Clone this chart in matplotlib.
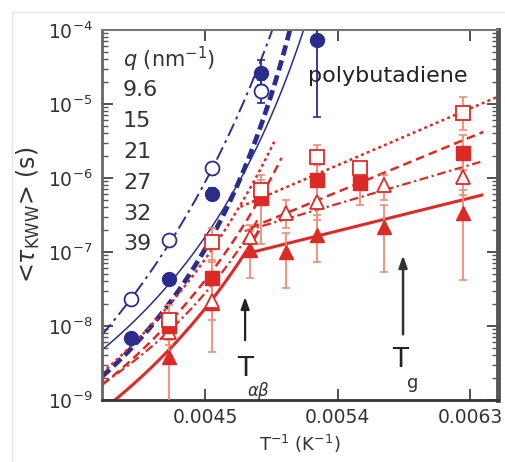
import numpy as np
import matplotlib.pyplot as plt
from matplotlib.ticker import (LogLocator, NullFormatter, FixedLocator,
                               FixedFormatter, LogFormatterSciNotation)
from matplotlib.lines import Line2D

# temperatures (K) and mean relaxation times (s) for each q
T_fc = np.array([250, 235, 220, 205, 190])
tau_fc = np.array([6.9e-9, 4.3e-8, 6.1e-7, 2.6e-5, 7.3e-5])
lo_fc = np.array([6.1e-9, 3.8e-8, 5.0e-7, 1.8e-5, 6.7e-6])
hi_fc = np.array([7.8e-9, 4.9e-8, 7.3e-7, 3.9e-5, 1.2e-4])

T_oc = np.array([250, 235, 220, 205])
tau_oc = np.array([2.3e-8, 1.45e-7, 1.36e-6, 1.5e-5])
lo_oc = np.array([2.0e-8, 1.3e-7, 1.1e-6, 1.03e-5])
hi_oc = np.array([2.6e-8, 1.6e-7, 1.6e-6, 2.1e-5])

T_os = np.array([235, 220, 205, 190, 180, 160])
tau_os = np.array([1.2e-8, 1.36e-7, 6.9e-7, 1.9e-6, 1.36e-6, 7.6e-6])
lo_os = np.array([7.6e-9, 7.3e-8, 4.3e-7, 1.1e-6, 8.0e-7, 4.5e-6])
hi_os = np.array([1.9e-8, 2.1e-7, 1.1e-6, 2.8e-6, 1.6e-6, 1.24e-5])

T_fs = np.array([235, 220, 205, 190, 180, 160])
tau_fs = np.array([1.0e-8, 4.5e-8, 5.4e-7, 9.4e-7, 8.6e-7, 2.2e-6])
lo_fs = np.array([6.5e-9, 2.2e-8, 1.3e-7, 5.0e-7, 4.3e-7, 1.3e-6])
hi_fs = np.array([1.5e-8, 7.8e-8, 9.4e-7, 1.5e-6, 1.36e-6, 3.8e-6])

T_ot = np.array([235, 220, 208, 198, 190, 175, 160])
tau_ot = np.array([8.3e-9, 2.2e-8, 1.6e-7, 3.4e-7, 4.7e-7, 8.0e-7, 1.03e-6])
lo_ot = np.array([5.5e-9, 1.2e-8, 1.06e-7, 2.1e-7, 2.7e-7, 5.0e-7, 5.9e-7])
hi_ot = np.array([1.3e-8, 3.6e-8, 2.3e-7, 5.0e-7, 8.0e-7, 1.1e-6, 1.75e-6])

T_ft = np.array([235, 220, 208, 198, 190, 175, 160])
tau_ft = np.array([3.8e-9, 2.05e-8, 1.06e-7, 1.0e-7, 1.7e-7, 2.2e-7, 3.4e-7])
lo_ft = np.array([7.3e-10, 4.5e-9, 4.5e-8, 3.3e-8, 7.3e-8, 5.4e-8, 4.2e-8])
hi_ft = np.array([8.8e-9, 3.6e-8, 1.9e-7, 1.8e-7, 3.2e-7, 4.3e-7, 6.9e-7])

q_labels = ["9.6", "15", "21", "27", "32", "39"]
x_ticks = [0.0045, 0.0054, 0.0063]
y_ticks = [1e-9, 1e-8, 1e-7, 1e-6, 1e-5, 1e-4]

# VFT fits: log10 tau = A + B/(T - T0), drawn between x0 and x1 (1/T)
vft_blue_dashdot = (-12.26, 510, 140, 0.0038, 0.0050)
vft_blue_dashed = (-11.30, 270, 160, 0.0038, 0.0051)
vft_blue_solid = (-11.02, 305, 150, 0.0038, 0.0052)
vft_red_dotted = (-11.72, 380, 140, 0.0038, 0.00498)
vft_red_dashed = (-11.64, 350, 140, 0.0038, 0.00502)
vft_red_dashdot = (-10.95, 245, 150, 0.0038, 0.00486)
vft_red_solid = (-11.90, 340, 140, 0.00388, 0.00486)
# Arrhenius fits: log10 tau = a + b*(1/T)
arr_red_dotted = (-10.429, 852, 0.00474, 0.0065)
arr_red_dashed = (-10.617, 820, 0.00481, 0.00639)
arr_red_dashdot = (-9.503, 584, 0.00477, 0.00637)
arr_red_solid = (-9.389, 495, 0.00481, 0.00638)

blue = '#2b2d8e'
red = '#dc2a26'
ered = '#f28c76'

plt.rcParams['font.family'] = 'DejaVu Sans'

fig = plt.figure(figsize=(5.05, 4.62), dpi=100)
ax = fig.add_axes([102/505, 62/462, 396/505, 370/462])


def vft_line(p, **kw):
    A, B, T0, x0, x1 = p
    x = np.linspace(x0, x1, 300)
    ax.plot(x, 10**(A + B/(1/x - T0)), **kw)


def arr_line(p, **kw):
    a, b, x0, x1 = p
    x = np.linspace(x0, x1, 50)
    ax.plot(x, 10**(a + b*x), **kw)


vft_line(vft_blue_dashdot, color=blue, lw=1.4, dashes=(7, 2.5, 1.5, 2.5))
vft_line(vft_blue_dashed, color=blue, lw=3.4, dashes=(2.2, 1.1))
vft_line(vft_blue_solid, color=blue, lw=1.1)
vft_line(vft_red_dotted, color=red, lw=1.8, dashes=(1.2, 1.3))
vft_line(vft_red_dashed, color=red, lw=1.8, dashes=(3.5, 2))
vft_line(vft_red_dashdot, color=red, lw=1.6, dashes=(4, 1.6, 1, 1.6))
vft_line(vft_red_solid, color=red, lw=2.2)
arr_line(arr_red_dotted, color=red, lw=1.8, dashes=(1.2, 1.3))
arr_line(arr_red_dashed, color=red, lw=1.8, dashes=(3.5, 2))
arr_line(arr_red_dashdot, color=red, lw=1.6, dashes=(4, 1.6, 1, 1.6))
arr_line(arr_red_solid, color=red, lw=2.2)


def series(T, tau, lo, hi, ecol, **kw):
    x = 1.0/T
    ax.errorbar(x, tau, yerr=[tau - lo, hi - tau], fmt='none', ecolor=ecol,
                elinewidth=1.3, capsize=3, capthick=1.2, zorder=3)
    ax.plot(x, tau, ls='none', zorder=4, **kw)


series(T_ft, tau_ft, lo_ft, hi_ft, ered, marker='^', ms=10, color=red, mec=red)
series(T_ot, tau_ot, lo_ot, hi_ot, ered, marker='^', ms=10, mfc='white', mec=red, mew=1.3)
series(T_fs, tau_fs, lo_fs, hi_fs, ered, marker='s', ms=10, color=red, mec=red)
series(T_os, tau_os, lo_os, hi_os, ered, marker='s', ms=10, mfc='white', mec=red, mew=1.3)
series(T_fc, tau_fc, lo_fc, hi_fc, blue, marker='o', ms=10, color=blue, mec=blue)
series(T_oc, tau_oc, lo_oc, hi_oc, blue, marker='o', ms=10, mfc='white', mec=blue, mew=1.3)

ax.set_yscale('log')
ax.set_xlim(0.0038, 0.00649)
ax.set_ylim(1e-9, 1e-4)
ax.xaxis.set_major_locator(FixedLocator(x_ticks))
ax.xaxis.set_major_formatter(FixedFormatter(['%.4f' % v for v in x_ticks]))
ax.yaxis.set_major_locator(FixedLocator(y_ticks))
ax.yaxis.set_major_formatter(LogFormatterSciNotation())
ax.yaxis.set_minor_locator(LogLocator(base=10, subs=np.arange(2, 10), numticks=10))
ax.yaxis.set_minor_formatter(NullFormatter())
ax.tick_params(which='both', direction='in', top=True, right=True, color='#555555')
ax.tick_params(which='major', length=8, width=1.2, labelsize=13.5, colors='#333333')
ax.tick_params(axis='x', which='major', pad=6)
ax.tick_params(axis='y', which='major', pad=7)
ax.tick_params(which='minor', length=4, width=1)

for side, w, c in [('left', 2, '#666666'), ('bottom', 2, '#333333'),
                   ('top', 1.5, '#777777'), ('right', 3.5, '#555555')]:
    ax.spines[side].set_linewidth(w)
    ax.spines[side].set_color(c)

ax.set_xlabel('T$^{-1}$ (K$^{-1}$)', fontsize=13, color='#333333', labelpad=4)
ax.set_ylabel(r'<$\tau_{\rm KWW}$> (s)', fontsize=17, color='#333333', labelpad=4)

ax.text(0.053, 0.92, r'$q$ (nm$^{-1}$)', transform=ax.transAxes, fontsize=15,
        va='center', color='#333333')
for i, lab in enumerate(q_labels):
    ax.text(0.053, 0.838 - i*0.0835, lab, transform=ax.transAxes, fontsize=16,
            va='center', color='#333333')
ax.text(0.52, 0.876, 'polybutadiene', transform=ax.transAxes, fontsize=16,
        va='center', color='#222222')

# transition markers
ax.annotate('', xy=(0.004772, 10**-7.57), xytext=(0.004772, 10**-8.23),
            arrowprops=dict(arrowstyle='-|>,head_length=0.7,head_width=0.25',
                            color='#222222', lw=1.6))
ax.annotate('', xy=(0.005845, 10**-7.01), xytext=(0.005845, 10**-8.15),
            arrowprops=dict(arrowstyle='-|>,head_length=0.7,head_width=0.25',
                            color='#333333', lw=1.8))
ax.text(0.004772, 10**-8.58, 'T', fontsize=19, ha='center', va='center', color='#222222')
ax.text(0.00486, 10**-8.88, r'$\alpha\beta$', fontsize=12, ha='center', va='center', color='#333333')
ax.text(0.005825, 10**-8.46, 'T', fontsize=19, ha='center', va='center', color='#222222')
ax.text(0.00591, 10**-8.77, 'g', fontsize=13, ha='center', va='center', color='#333333')

# faint page frame
fig.add_artist(Line2D([12/505, 1], [1 - 12/462, 1 - 12/462], color='#e6e6e6', lw=1))
fig.add_artist(Line2D([12/505, 12/505], [0, 1 - 12/462], color='#e6e6e6', lw=1))

fig.savefig('out.png', dpi=100)
